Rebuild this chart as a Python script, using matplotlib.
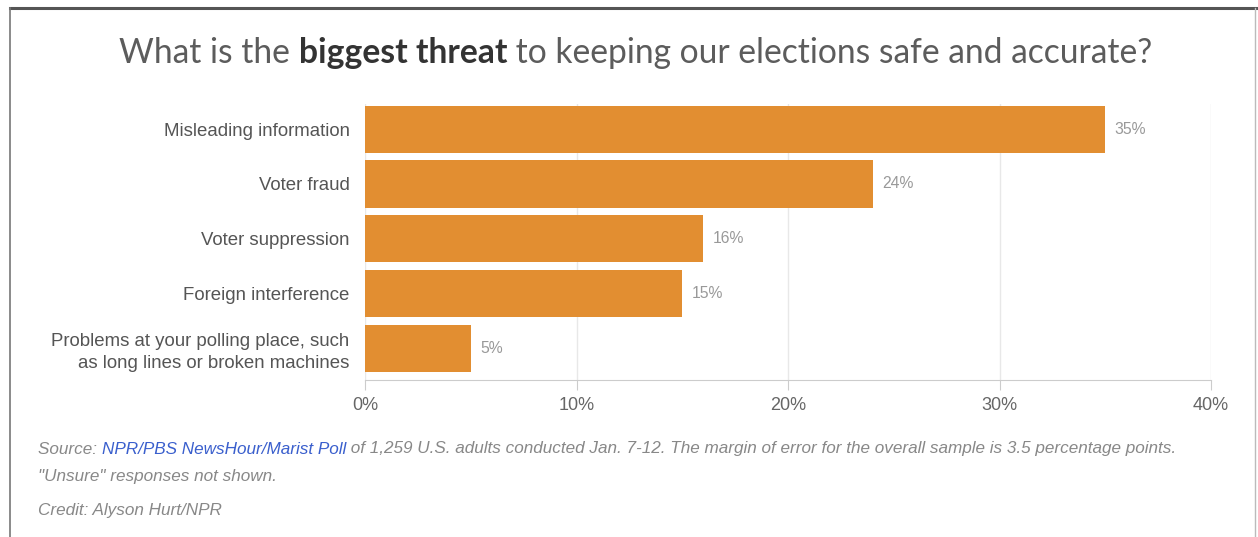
import matplotlib.pyplot as plt

categories = ["Misleading information", "Voter fraud", "Voter suppression",
              "Foreign interference",
              "Problems at your polling place, such\nas long lines or broken machines"]
values = [35, 24, 16, 15, 5]
xticks = [0, 10, 20, 30, 40]
xtick_labels = ["0%", "10%", "20%", "30%", "40%"]

bar_color = "#E28E31"
W, H = 1258, 537

fig = plt.figure(figsize=(W / 100, H / 100), dpi=100)
fig.patch.set_facecolor("white")

# frame lines (top, left, right)
fig.add_artist(plt.Line2D([10 / W, 1256 / W], [1 - 8 / H, 1 - 8 / H], color="#555555", lw=2.2))
fig.add_artist(plt.Line2D([10 / W, 10 / W], [0, 1 - 8 / H], color="#777777", lw=1.2))
fig.add_artist(plt.Line2D([1255 / W, 1255 / W], [0, 1 - 8 / H], color="#bbbbbb", lw=1.0))

# axes: x 365..1211, y 104..380
ax = fig.add_axes([365 / W, 1 - 380 / H, (1211 - 365) / W, (380 - 104) / H])
ypos = list(range(len(categories)))
ax.barh(ypos, values, height=0.86, color=bar_color, zorder=3)
ax.set_ylim(len(categories) - 1 + 0.58, -0.46)
ax.set_xlim(0, 40)
ax.set_xticks(xticks)
ax.set_xticklabels(xtick_labels, fontsize=13, color="#666666", family="Liberation Sans")
ax.set_yticks(ypos)
ax.set_yticklabels(categories, fontsize=13.4, color="#555555", family="Liberation Sans",
                   linespacing=1.35)
ax.tick_params(axis="y", length=0, pad=11)
ax.tick_params(axis="x", length=7, color="#cccccc", pad=5)
for s in ["top", "right", "left"]:
    ax.spines[s].set_visible(False)
ax.spines["bottom"].set_color("#cccccc")
ax.xaxis.grid(True, color="#e8e8e8", lw=1, zorder=0)

for y, v in zip(ypos, values):
    ax.text(v + 0.45, y, f"{v}%", va="center", ha="left", fontsize=11.3,
            color="#999999", family="Liberation Sans")

# title with bold part
title_parts = [("What is the ", "normal"), ("biggest threat", "bold"),
               (" to keeping our elections safe and accurate?", "normal")]
renderer = fig.canvas.get_renderer()
texts = []
for s, wgt in title_parts:
    t = fig.text(0, 1 - 53 / H, s, fontsize=24.2,
                 color="#333333" if wgt == "bold" else "#5c5c5c", family="Lato",
                 weight=wgt, va="center", ha="left")
    texts.append(t)
widths = [t.get_window_extent(renderer).width for t in texts]
start = (636 - sum(widths) / 2)
for t, w in zip(texts, widths):
    t.set_x(start / W)
    start += w

# footer
foot_color = "#888888"
parts = [("Source: ", foot_color), ("NPR/PBS NewsHour/Marist Poll", "#3a5fcd"),
         (" of 1,259 U.S. adults conducted Jan. 7-12. The margin of error for the overall sample is 3.5 percentage points.", foot_color)]
ftexts = [fig.text(0, 1 - 449 / H, s, fontsize=12.3, color=c, style="italic",
                   family="Liberation Sans", va="center", ha="left") for s, c in parts]
xx = 38
for t in ftexts:
    t.set_x(xx / W)
    xx += t.get_window_extent(renderer).width
fig.text(38 / W, 1 - 477 / H, "\"Unsure\" responses not shown.", fontsize=12.3, color=foot_color,
         style="italic", family="Liberation Sans", va="center", ha="left")
fig.text(38 / W, 1 - 510 / H, "Credit: Alyson Hurt/NPR", fontsize=12.3, color=foot_color,
         style="italic", family="Liberation Sans", va="center", ha="left")

fig.savefig("out.png", dpi=100, facecolor="white")
